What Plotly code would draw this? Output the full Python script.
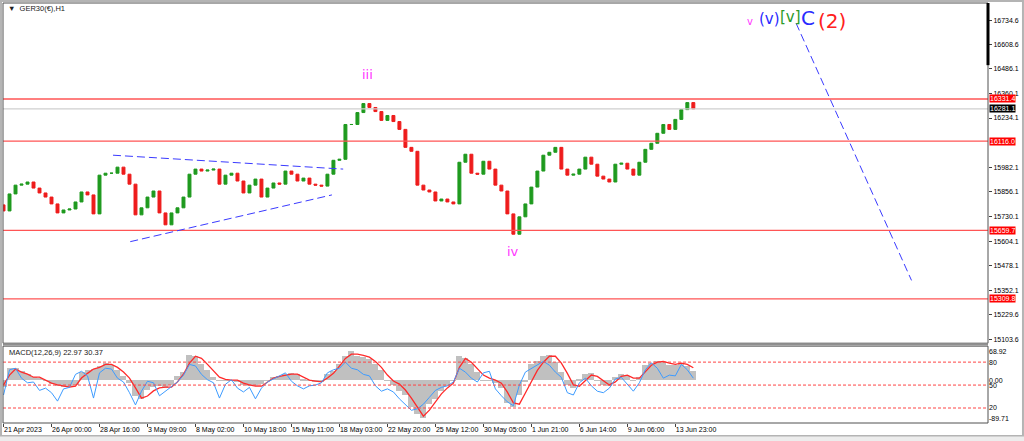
import plotly.graph_objects as go

# GER30 H1 - closes, one candle per 8 hourly bars
bar_step = 8
first_open = 15790
closes = [15759, 15846, 15891, 15896, 15907, 15876, 15851, 15830, 15795, 15749,
          15764, 15769, 15805, 15856, 15841, 15744, 15942, 15952, 15952, 15983,
          15947, 15896, 15739, 15775, 15830, 15861, 15749, 15688, 15749, 15775,
          15830, 15947, 15973, 15963, 15968, 15973, 15896, 15942, 15952, 15912,
          15851, 15891, 15922, 15830, 15876, 15902, 15896, 15963, 15947, 15912,
          15927, 15896, 15891, 15886, 15947, 16018, 16023, 16201, 16201, 16262,
          16308, 16288, 16267, 16222, 16247, 16216, 16176, 16084, 16064, 15891,
          15866, 15856, 15810, 15820, 15805, 15795, 16008, 16049, 15952, 15947,
          16013, 15973, 15891, 15861, 15744, 15640, 15729, 15795, 15881, 15963,
          16044, 16059, 16084, 15973, 15942, 15947, 15973, 16034, 15998, 15937,
          15922, 15907, 15998, 16003, 15973, 15942, 16008, 16074, 16105, 16156,
          16201, 16176, 16227, 16277, 16313, 16281]

# MACD panel
macd_hist = [-15, 29, 29, 22, 15, 8, 6, -1, -8, -13,
             -15, -15, -10, 20, 24, 27, 34, 41, 36, 24,
             10, -6, -36, -43, -22, -15, -13, -17, -10, 10,
             20, 59, 57, 38, 24, 8, 1, -1, -1, -3,
             -10, -13, -13, -8, 1, 8, 10, 15, 17, 15,
             3, -1, -3, -3, 15, 22, 38, 57, 69, 57,
             55, 50, 38, 24, 1, -10, -24, -34, -62, -78,
             -87, -55, -43, -24, -13, 1, 57, 52, 38, 20,
             1, -1, -6, -17, -52, -62, -34, -3, 38, 45,
             57, 59, 43, 20, -10, -17, 3, 15, 17, -1,
             -10, -13, 8, 15, 10, 1, 8, 36, 41, 45,
             43, 36, 36, 38, 34, 23]
macd_signal = [-10, 13, 27, 20, 15, 8, 8, 1, -6, -10,
               -13, -15, -13, 6, 17, 27, 31, 38, 38, 31,
               20, 6, -17, -41, -36, -24, -17, -15, -15, -3,
               15, 41, 57, 52, 38, 22, 8, 3, 1, 1,
               -6, -10, -13, -13, -3, 6, 10, 13, 15, 15,
               8, 1, -1, -3, 6, 17, 34, 52, 62, 62,
               59, 55, 45, 31, 13, -1, -8, -22, -41, -62,
               -83, -69, -50, -31, -17, -6, 31, 52, 43, 29,
               13, 6, 1, -6, -27, -52, -55, -29, -3, 24,
               43, 57, 57, 41, 17, -10, -13, 1, 13, 10,
               -1, -10, -3, 10, 13, 6, 6, 22, 36, 43,
               45, 41, 38, 41, 38, 30]
stoch = [37, 70, 72, 59, 53, 54, 43, 46, 40, 29,
         45, 47, 64, 68, 62, 33, 66, 72, 71, 59,
         54, 40, 24, 42, 55, 53, 36, 42, 47, 54,
         63, 77, 75, 64, 57, 53, 33, 51, 57, 46,
         41, 47, 32, 46, 54, 58, 63, 66, 55, 49,
         45, 49, 50, 53, 66, 70, 72, 80, 72, 70,
         64, 62, 49, 42, 45, 41, 32, 24, 17, 19,
         25, 34, 43, 47, 49, 54, 72, 67, 59, 54,
         66, 68, 45, 36, 28, 23, 50, 67, 72, 77,
         81, 76, 67, 60, 40, 37, 53, 59, 49, 42,
         40, 46, 58, 60, 51, 42, 53, 70, 79, 72,
         59, 63, 62, 77, 70, 59]
stoch_levels = [80, 50, 20]

# date axis: one label every 64 hourly bars
date_ticks = [0, 64, 128, 192, 256, 320, 384, 448, 512, 576, 640, 704, 768, 832, 896]
date_labels = ["21 Apr 2023", "26 Apr 00:00", "28 Apr 16:00", "3 May 09:00", "8 May 02:00",
               "10 May 18:00", "15 May 11:00", "18 May 03:00", "22 May 20:00", "25 May 12:00",
               "30 May 05:00", "1 Jun 21:00", "6 Jun 14:00", "9 Jun 06:00", "13 Jun 23:00"]
price_ticks = [16734.6, 16608.6, 16486.1, 16360.1, 16234.1, 15982.1, 15856.1,
               15730.1, 15604.1, 15478.1, 15352.1, 15229.6, 15103.6]

levels = [16331.4, 16116.0, 15659.7, 15309.8]
last_price = 16281.1

# trend lines (bar index, price)
tri_upper = [(146, 16044), (453, 15973)]
tri_lower = [(169, 15602), (438, 15841)]
wave_c_line = [(1057, 16719), (1211, 15404)]

# wave labels: text, bar, price, colour, size
wave_labels = [("iii", 485, 16455, "#ff33ff", 13),
               ("iv", 679, 15551, "#ff33ff", 13),
               ("v", 995, 16728, "#ff33ff", 10),
               ("(v)", 1022, 16738, "#2b2bff", 15),
               ("[v]", 1049, 16752, "#2a9a2a", 15),
               ("C", 1073, 16745, "#2b2bff", 20),
               ("(2)", 1105, 16730, "#ff2020", 20)]

bars = [i * bar_step for i in range(len(closes))]
opens = [first_open] + closes[:-1]
highs = [max(o, c) for o, c in zip(opens, closes)]
lows = [min(o, c) for o, c in zip(opens, closes)]

fig = go.Figure()
fig.add_trace(go.Candlestick(x=bars, open=opens, high=highs, low=lows, close=closes,
                             increasing=dict(line=dict(color="#1f9a1f", width=1), fillcolor="#1f9a1f"),
                             decreasing=dict(line=dict(color="#ee1c1c", width=1), fillcolor="#ee1c1c"),
                             whiskerwidth=0, hoverinfo="skip", yaxis="y"))
fig.add_trace(go.Bar(x=bars, y=macd_hist, width=bar_step, marker=dict(color="#c0c0c0", line=dict(width=0)),
                     yaxis="y3"))
fig.add_trace(go.Scatter(x=bars, y=macd_signal, mode="lines", line=dict(color="#ff2a2a", width=1.3),
                         yaxis="y3"))
fig.add_trace(go.Scatter(x=bars, y=stoch, mode="lines", line=dict(color="#3d9bff", width=1),
                         yaxis="y4"))

shapes = []
for lv in levels:
    shapes.append(dict(type="line", xref="paper", x0=0, x1=1, yref="y", y0=lv, y1=lv,
                       line=dict(color="#ff5555", width=1.3)))
shapes.append(dict(type="line", xref="paper", x0=0, x1=1, yref="y", y0=last_price, y1=last_price,
                   line=dict(color="#cfcfcf", width=1.3)))
for ln in [tri_upper, tri_lower, wave_c_line]:
    shapes.append(dict(type="line", xref="x", yref="y", x0=ln[0][0], y0=ln[0][1], x1=ln[1][0], y1=ln[1][1],
                       line=dict(color="#3a3aff", width=1, dash="8px,4px")))
for lv in stoch_levels:
    shapes.append(dict(type="line", xref="paper", x0=0, x1=1, yref="y4", y0=lv, y1=lv,
                       line=dict(color="#ff4444", width=1, dash="3px,2px")))
# panel frames
shapes.append(dict(type="rect", xref="paper", yref="paper", x0=0, x1=1, y0=0.19, y1=1,
                   line=dict(color="#505050", width=1)))
shapes.append(dict(type="rect", xref="paper", yref="paper", x0=0, x1=1, y0=0, y1=0.183,
                   line=dict(color="#505050", width=1)))
shapes.append(dict(type="line", xref="paper", yref="paper", x0=0, x1=1, y0=0.187, y1=0.187,
                   line=dict(color="#909090", width=2)))
shapes.append(dict(type="line", xref="paper", yref="paper", x0=1, x1=1, y0=0.852, y1=1,
                   line=dict(color="#000000", width=3)))
# window border
shapes.append(dict(type="rect", xref="paper", yref="paper", x0=-0.002, x1=1.0355, y0=-0.031, y1=1.005,
                   line=dict(color="#b4b4b4", width=2)))
shapes.append(dict(type="rect", xref="paper", yref="paper", x0=-0.004, x1=1.04, y0=-0.045, y1=-0.032,
                   fillcolor="#ececec", line=dict(width=0)))

annotations = []
for lv in levels:
    annotations.append(dict(xref="paper", x=1, xanchor="left", xshift=1, yref="y", y=lv,
                            text=f"{lv:.1f}", showarrow=False, bgcolor="#ff0000", borderpad=0,
                            font=dict(family="Liberation Sans", size=7, color="white")))
annotations.append(dict(xref="paper", x=1, xanchor="left", xshift=1, yref="y", y=last_price,
                        text=f"{last_price:.1f}", showarrow=False, bgcolor="#000000", borderpad=0,
                        font=dict(family="Liberation Sans", size=7, color="white")))
for txt, bx, py, col, sz in wave_labels:
    annotations.append(dict(x=bx, y=py, xref="x", yref="y", text=txt, showarrow=False,
                            font=dict(family="DejaVu Sans", size=sz, color=col)))
annotations.append(dict(xref="paper", yref="paper", x=0.003, y=0.986, xanchor="left", yanchor="middle",
                        text="▼  GER30(€),H1", showarrow=False,
                        font=dict(family="Liberation Sans", size=7.5, color="#202020")))
annotations.append(dict(xref="paper", yref="paper", x=0.004, y=0.167, xanchor="left", yanchor="middle",
                        text="MACD(12,26,9) 22.97 30.37", showarrow=False,
                        font=dict(family="Liberation Sans", size=7.5, color="#202020")))

tick_font = dict(family="Liberation Sans", size=7, color="#000000")
fig.update_layout(
    width=1024, height=441,
    margin=dict(l=3, r=36, t=3, b=18),
    paper_bgcolor="white", plot_bgcolor="white",
    showlegend=False, bargap=0, boxgap=0.3,
    shapes=shapes, annotations=annotations,
    xaxis=dict(anchor="y3", range=[-0.7, 1313], tickvals=date_ticks, ticktext=date_labels,
               ticks="outside", ticklen=3, tickcolor="#404040", ticklabelposition="outside right",
               tickangle=0, tickfont=tick_font, showgrid=False, zeroline=False,
               rangeslider=dict(visible=False)),
    yaxis=dict(domain=[0.19, 1], anchor="x", side="right", range=[15083, 16822],
               tickvals=price_ticks, ticktext=[f"{p:.1f}" for p in price_ticks],
               ticks="outside", ticklen=3, tickcolor="#404040", tickfont=tick_font,
               showgrid=False, zeroline=False),
    yaxis3=dict(domain=[0, 0.183], anchor="x", side="right", range=[-99, 80.6],
                tickvals=[68.92, 0, -89.71], ticktext=["68.92", "0.00", "-89.71"],
                ticks="", tickfont=tick_font, showgrid=False, zeroline=False),
    yaxis4=dict(overlaying="y3", anchor="x", side="right", range=[0.4, 100.9],
                tickvals=stoch_levels, ticktext=[str(v) for v in stoch_levels],
                ticks="", tickfont=tick_font, showgrid=False, zeroline=False),
)

fig.write_html("out.html", config={"displayModeBar": False},
               post_script="document.body.style.margin='0';")
